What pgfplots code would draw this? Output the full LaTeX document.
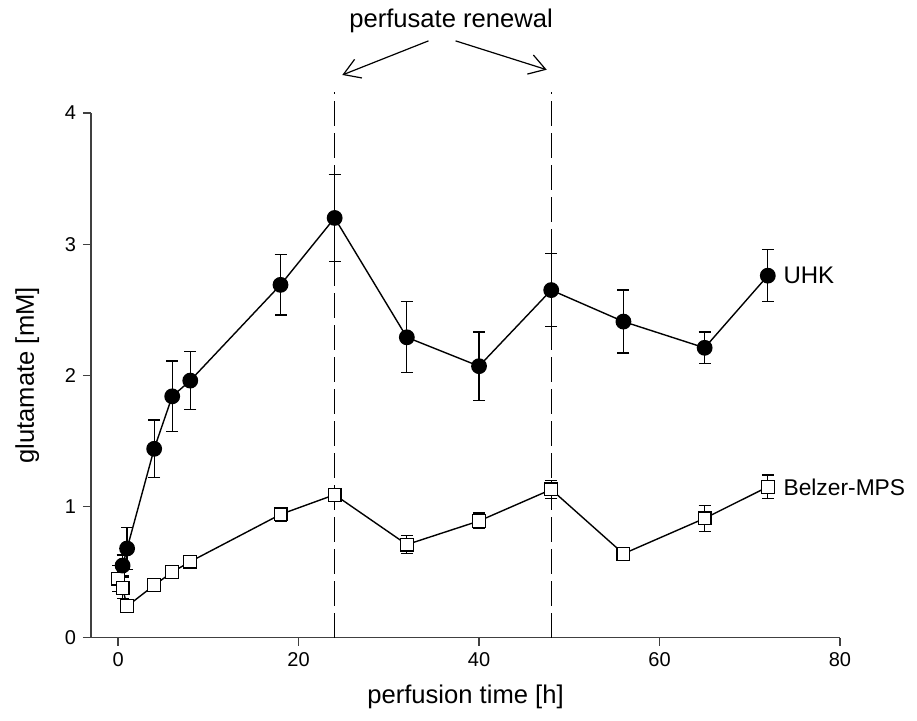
\documentclass[border=0pt]{standalone}
\usepackage{fontspec}
\setmainfont{Liberation Sans}
\usepackage{pgfplots}
\pgfplotsset{compat=1.18}
\usetikzlibrary{arrows.meta}

\begin{document}
\begin{tikzpicture}
  % page frame, same proportions as the 917x720 reference (0.5pt per px)
  \path[use as bounding box] (-45.5pt,-41.15pt) rectangle (413pt,318.85pt);
  \begin{axis}[
      scale only axis,
      width=374.5pt,
      height=262.35pt,
      xmin=-3, xmax=80,
      ymin=0, ymax=4,
      axis x line*=bottom,
      axis y line*=left,
      axis line style={-, line width=0.6pt, black!75},
      xtick={0,20,40,60,80},
      ytick={0,1,2,3,4},
      tick align=outside,
      major tick length=4pt,
      tick style={line width=0.6pt, black!75},
      /pgf/number format/assume math mode=true,
      tick label style={font=\fontsize{10}{12}\selectfont},
      xlabel={perfusion time [h]},
      ylabel={glutamate [mM]},
      label style={font=\fontsize{12.8}{15}\selectfont},
      xlabel style={yshift=-2pt},
      ylabel style={yshift=6pt},
      clip=false,
    ]
    % renewal markers
    \addplot[black, line width=0.6pt, dash pattern=on 12.5pt off 3.5pt, forget plot]
      coordinates {(24,0) (24,4.16)};
    \addplot[black, line width=0.6pt, dash pattern=on 12.5pt off 3.5pt, forget plot]
      coordinates {(48,0) (48,4.16)};

    % Belzer-MPS
    \addplot[black, line width=0.7pt, mark=square*, mark size=3.2pt,
      mark options={fill=white, line width=0.6pt},
      error bars/.cd, y dir=both, y explicit,
      error bar style={line width=0.6pt},
      error mark options={rotate=90, mark size=3pt, line width=0.6pt}]
      table[x=x, y=y, y error=e] {
        x    y    e
        0    0.45 0.10
        0.5  0.38 0.08
        1    0.24 0.04
        4    0.40 0.04
        6    0.50 0.03
        8    0.58 0.04
        18   0.94 0.05
        24   1.09 0.05
        32   0.71 0.07
        40   0.89 0.06
        48   1.13 0.07
        56   0.64 0.02
        65   0.91 0.10
        72   1.15 0.09
      };

    % UHK
    \addplot[black, line width=0.7pt, mark=*, mark size=3.6pt,
      error bars/.cd, y dir=both, y explicit,
      error bar style={line width=0.6pt},
      error mark options={rotate=90, mark size=3pt, line width=0.6pt}]
      table[x=x, y=y, y error=e] {
        x    y    e
        0.5  0.55 0.08
        1    0.68 0.16
        4    1.44 0.22
        6    1.84 0.27
        8    1.96 0.22
        18   2.69 0.23
        24   3.20 0.33
        32   2.29 0.27
        40   2.07 0.26
        48   2.65 0.28
        56   2.41 0.24
        65   2.21 0.12
        72   2.76 0.20
      };

    \node[anchor=west, font=\fontsize{12}{14}\selectfont, inner sep=0pt]
      at (axis cs:73.7,2.76) {UHK};
    \node[anchor=west, font=\fontsize{11.4}{14}\selectfont, inner sep=0pt]
      at (axis cs:73.7,1.15) {Belzer-MPS};

    \node[font=\fontsize{12.8}{15}\selectfont, inner sep=0pt]
      at (axis cs:36.9,4.70) {perfusate renewal};
    \draw[line width=0.6pt, -{Straight Barb[length=8pt, width=10pt, line width=0.6pt]}]
      (axis cs:34.4,4.55) -- (axis cs:24.85,4.29);
    \draw[line width=0.6pt, -{Straight Barb[length=8pt, width=10pt, line width=0.6pt]}]
      (axis cs:37.4,4.55) -- (axis cs:47.5,4.33);
  \end{axis}
\end{tikzpicture}
\end{document}
